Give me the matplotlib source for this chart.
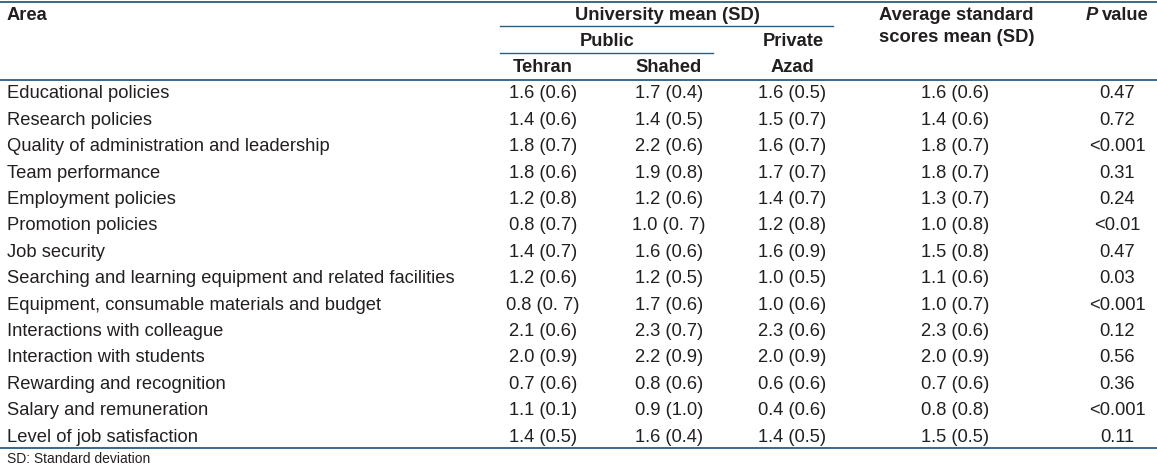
import matplotlib
matplotlib.use('Agg')
import matplotlib.pyplot as plt

# Table content
areas = [
    'Educational policies',
    'Research policies',
    'Quality of administration and leadership',
    'Team performance',
    'Employment policies',
    'Promotion policies',
    'Job security',
    'Searching and learning equipment and related facilities',
    'Equipment, consumable materials and budget',
    'Interactions with colleague',
    'Interaction with students',
    'Rewarding and recognition',
    'Salary and remuneration',
    'Level of job satisfaction',
]
tehran = ['1.6 (0.6)', '1.4 (0.6)', '1.8 (0.7)', '1.8 (0.6)', '1.2 (0.8)', '0.8 (0.7)', '1.4 (0.7)',
          '1.2 (0.6)', '0.8 (0. 7)', '2.1 (0.6)', '2.0 (0.9)', '0.7 (0.6)', '1.1 (0.1)', '1.4 (0.5)']
shahed = ['1.7 (0.4)', '1.4 (0.5)', '2.2 (0.6)', '1.9 (0.8)', '1.2 (0.6)', '1.0 (0. 7)', '1.6 (0.6)',
          '1.2 (0.5)', '1.7 (0.6)', '2.3 (0.7)', '2.2 (0.9)', '0.8 (0.6)', '0.9 (1.0)', '1.6 (0.4)']
azad = ['1.6 (0.5)', '1.5 (0.7)', '1.6 (0.7)', '1.7 (0.7)', '1.4 (0.7)', '1.2 (0.8)', '1.6 (0.9)',
        '1.0 (0.5)', '1.0 (0.6)', '2.3 (0.6)', '2.0 (0.9)', '0.6 (0.6)', '0.4 (0.6)', '1.4 (0.5)']
average = ['1.6 (0.6)', '1.4 (0.6)', '1.8 (0.7)', '1.8 (0.7)', '1.3 (0.7)', '1.0 (0.8)', '1.5 (0.8)',
           '1.1 (0.6)', '1.0 (0.7)', '2.3 (0.6)', '2.0 (0.9)', '0.7 (0.6)', '0.8 (0.8)', '1.5 (0.5)']
p_values = ['0.47', '0.72', '<0.001', '0.31', '0.24', '<0.01', '0.47',
            '0.03', '<0.001', '0.12', '0.56', '0.36', '<0.001', '0.11']

W, H = 1157, 467
fig = plt.figure(figsize=(W / 100, H / 100), dpi=100)
ax = fig.add_axes([0, 0, 1, 1])
ax.set_xlim(0, W)
ax.set_ylim(H, 0)
ax.axis('off')

plt.rcParams['font.family'] = ['Liberation Sans', 'DejaVu Sans']
txt = '#231f20'
line_c = '#2a5d84'
fs = 13.2

# column centres (pixels)
x_teh, x_sha, x_aza, x_avg, x_p = 543, 669, 792, 955, 1117

# Rules
ax.plot([0, W], [1.5, 1.5], color=line_c, lw=1.3)
ax.plot([500, 833], [26, 26], color=line_c, lw=1.0)
ax.plot([500, 713], [53, 53], color=line_c, lw=1.0)
ax.plot([0, W], [79.5, 79.5], color=line_c, lw=1.3)
ax.plot([0, W], [448, 448], color=line_c, lw=1.3)

# Header
hd = dict(fontsize=fs, fontweight='bold', color=txt, va='center')
ax.text(7, 15, 'Area', ha='left', **hd)
ax.text(667, 15, 'University mean (SD)', ha='center', **hd)
ax.text(607, 42, 'Public', ha='center', **hd)
ax.text(793, 42, 'Private', ha='center', **hd)
ax.text(x_teh, 68, 'Tehran', ha='center', **hd)
ax.text(x_sha, 68, 'Shahed', ha='center', **hd)
ax.text(x_aza, 68, 'Azad', ha='center', **hd)
ax.text(879, 15, 'Average standard', ha='left', **hd)
ax.text(879, 37, 'scores mean (SD)', ha='left', **hd)
ax.text(1098, 15, 'P', ha='right', fontstyle='italic', fontsize=fs, fontweight='bold', color=txt, va='center')
ax.text(1102, 15, 'value', ha='left', **hd)

# Body rows
row0, step = 94, 26.4
body = dict(fontsize=fs, color=txt, va='center')
for i in range(len(areas)):
    y = row0 + i * step
    ax.text(7, y, areas[i], ha='left', **body)
    ax.text(x_teh, y, tehran[i], ha='center', **body)
    ax.text(x_sha, y, shahed[i], ha='center', **body)
    ax.text(x_aza, y, azad[i], ha='center', **body)
    ax.text(x_avg, y, average[i], ha='center', **body)
    ax.text(x_p, y, p_values[i], ha='center', **body)

ax.text(7, 459, 'SD: Standard deviation', ha='left', fontsize=10, color=txt, va='center')

fig.savefig('out.png', dpi=100)
